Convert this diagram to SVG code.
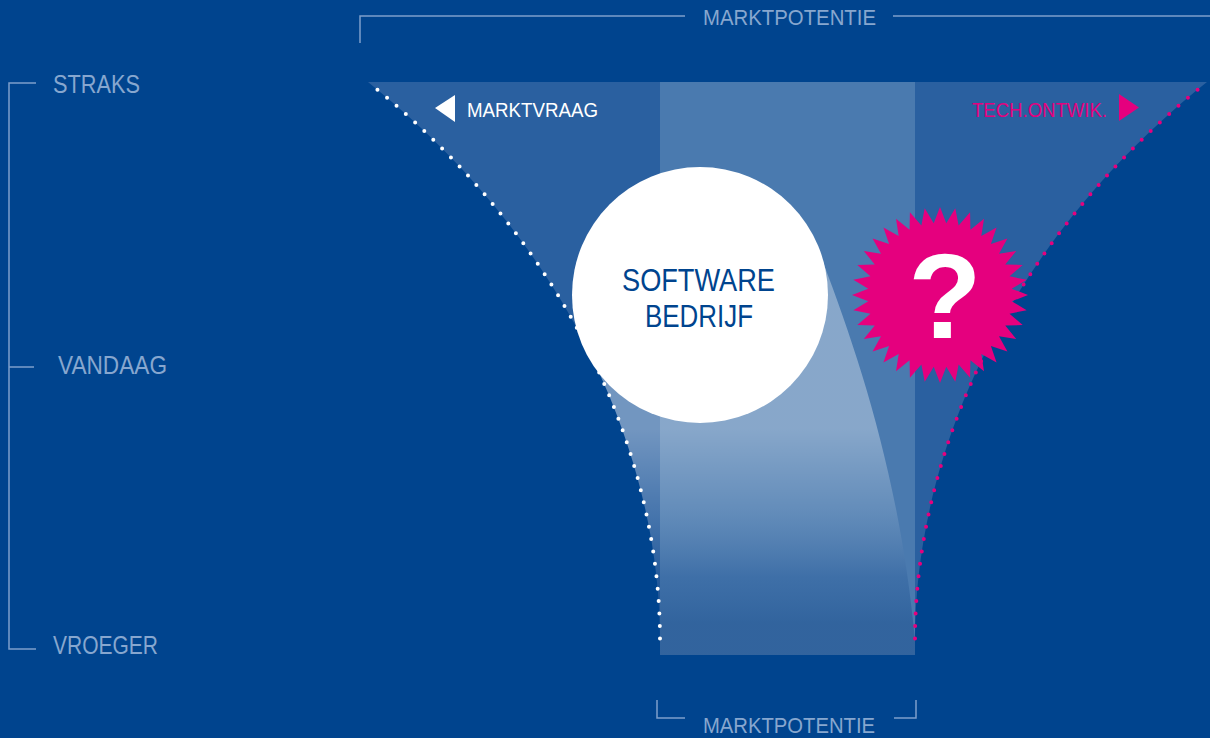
<svg xmlns="http://www.w3.org/2000/svg" width="1210" height="738" viewBox="0 0 1210 738">
  <defs>
    <style>
      .lbl { font-family: "Liberation Sans", Arial, sans-serif; fill: #87a7cf; }
      .axis { stroke: #7d9fcb; stroke-width: 1.5; fill: none; }
      .dots { fill: none; stroke-width: 4; stroke-linecap: round; stroke-dasharray: 0 12.5; stroke-dashoffset: 0.5; }
    </style>
    <linearGradient id="beamGrad" gradientUnits="userSpaceOnUse" x1="0" y1="265" x2="0" y2="655">
      <stop offset="0" stop-color="#ffffff" stop-opacity="0.34"/>
      <stop offset="0.42" stop-color="#ffffff" stop-opacity="0.34"/>
      <stop offset="0.62" stop-color="#ffffff" stop-opacity="0.15"/>
      <stop offset="0.8" stop-color="#0a3f85" stop-opacity="0.18"/>
      <stop offset="0.92" stop-color="#00367a" stop-opacity="0.33"/>
      <stop offset="1" stop-color="#00367a" stop-opacity="0.33"/>
    </linearGradient>
    <clipPath id="funnelClip">
      <path d="M368,82 C573,246 660,460 660,640 L915,640 C915,460 1002,246 1207,82 Z"/>
      <rect x="660" y="82" width="255" height="573"/>
    </clipPath>
  </defs>

  <rect x="0" y="0" width="1210" height="738" fill="#00448e"/>

  <g id="funnel">
    <path d="M368,82 L1210,82 L1210,82 L1207,82 C1002,246 915,460 915,640 L660,640 C660,460 573,246 368,82 Z" fill="#2a60a0"/>
    <rect x="660" y="82" width="255" height="573" fill="#4a7aaf"/>
    <path clip-path="url(#funnelClip)" d="M560,365 L700,365 L700,295 L823,262 C860,360 900,480 915,640 L915,660 L560,660 Z" fill="url(#beamGrad)"/>
  </g>

  <g id="connectors">
    <path class="dots" stroke="#ffffff" d="M368,82 C573,246 660,460 660,640"/>
    <path class="dots" stroke="#e5007e" d="M1207,82 C1002,246 915,460 915,640"/>
  </g>

  <g id="axis-left">
    <path class="axis" d="M36,83 L9,83 L9,649 L36,649 M9,367 L34,367"/>
    <text class="lbl" x="53" y="93" font-size="26" textLength="87" lengthAdjust="spacingAndGlyphs">STRAKS</text>
    <text class="lbl" x="58" y="374" font-size="26" textLength="109" lengthAdjust="spacingAndGlyphs">VANDAAG</text>
    <text class="lbl" x="53" y="654" font-size="26" textLength="105" lengthAdjust="spacingAndGlyphs">VROEGER</text>
  </g>

  <g id="marktpotentie-top">
    <path class="axis" d="M360,43 L360,16 L685,16 M893,16 L1210,16"/>
    <text class="lbl" x="703" y="25" font-size="22" textLength="173" lengthAdjust="spacingAndGlyphs">MARKTPOTENTIE</text>
  </g>

  <g id="marktpotentie-bottom">
    <path class="axis" d="M657,700 L657,718 L685,718 M894,718 L916,718 L916,700"/>
    <text class="lbl" x="703" y="733" font-size="22" textLength="172" lengthAdjust="spacingAndGlyphs">MARKTPOTENTIE</text>
  </g>

  <g id="marktvraag">
    <polygon points="435,108 455,95 455,122" fill="#ffffff"/>
    <text x="467" y="117" font-family="'Liberation Sans', Arial, sans-serif" font-size="20.5" fill="#ffffff" textLength="131" lengthAdjust="spacingAndGlyphs">MARKTVRAAG</text>
  </g>

  <g id="tech-ontwik">
    <text x="972" y="117" font-family="'Liberation Sans', Arial, sans-serif" font-size="20.5" fill="#e5007e" textLength="135" lengthAdjust="spacingAndGlyphs">TECH.ONTWIK.</text>
    <polygon points="1119,94 1139,107.5 1119,121" fill="#e5007e"/>
  </g>

  <g id="software-bedrijf">
    <circle cx="700" cy="295" r="128" fill="#ffffff"/>
    <text x="622" y="291" font-family="'Liberation Sans', Arial, sans-serif" font-size="32" fill="#00448e" textLength="153" lengthAdjust="spacingAndGlyphs">SOFTWARE</text>
    <text x="645" y="327" font-family="'Liberation Sans', Arial, sans-serif" font-size="31" fill="#00448e" textLength="108" lengthAdjust="spacingAndGlyphs">BEDRIJF</text>
  </g>

  <g id="question-burst">
    <polygon fill="#e5007e" points="1028,295 1011.73,301.28 1026.66,310.28 1009.54,313.63 1022.69,325.10 1005.25,325.43 1016.21,339 998.98,336.30 1007.41,351.57 990.91,345.91 996.57,362.41 981.30,353.98 984,371.21 970.43,360.25 970.10,377.69 958.63,364.54 955.28,381.66 946.28,366.73 940,383 933.72,366.73 924.72,381.66 921.37,364.54 909.90,377.69 909.57,360.25 896,371.21 898.70,353.98 883.43,362.41 889.09,345.91 872.59,351.57 881.02,336.30 863.79,339 874.75,325.43 857.31,325.10 870.46,313.63 853.34,310.28 868.27,301.28 852,295 868.27,288.72 853.34,279.72 870.46,276.37 857.31,264.90 874.75,264.57 863.79,251 881.02,253.70 872.59,238.43 889.09,244.09 883.43,227.59 898.70,236.02 896,218.79 909.57,229.75 909.90,212.31 921.37,225.46 924.72,208.34 933.72,223.27 940,207 946.28,223.27 955.28,208.34 958.63,225.46 970.10,212.31 970.43,229.75 984,218.79 981.30,236.02 996.57,227.59 990.91,244.09 1007.41,238.43 998.98,253.70 1016.21,251 1005.25,264.57 1022.69,264.90 1009.54,276.37 1026.66,279.72 1011.73,288.72"/>
    <text x="945" y="338" text-anchor="middle" font-family="'Liberation Sans', Arial, sans-serif" font-weight="bold" font-size="120" fill="#ffffff">?</text>
  </g>
</svg>
